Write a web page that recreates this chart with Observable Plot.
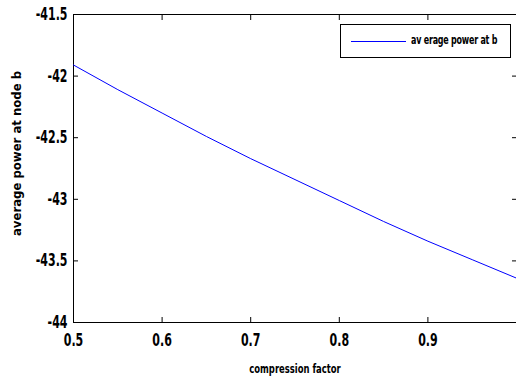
<!DOCTYPE html>
<html>
<head>
<meta charset="utf-8">
<script src="https://cdn.jsdelivr.net/npm/d3@7"></script>
<script src="https://cdn.jsdelivr.net/npm/@observablehq/plot@0.6"></script>
<style>
  html, body { margin: 0; padding: 0; background: #fff; }
  #wrap { position: relative; width: 516px; height: 380px; overflow: hidden; }
  #legend {
    position: absolute; left: 340px; top: 24px; width: 171px; height: 34px;
    box-sizing: border-box; border: 1px solid #000; background: #fff;
    font-family: "DejaVu Sans Condensed", "DejaVu Sans", sans-serif;
    font-weight: bold; font-size: 12px;
  }
  #legend .sw { position: absolute; left: 10px; top: 16px; width: 55px; height: 0; border-top: 1px solid #0000ff; }
  #legend .lb { position: absolute; left: 70px; top: 8px; white-space: pre; transform: scaleX(0.74); transform-origin: 0 50%; letter-spacing: -0.3px; }
</style>
</head>
<body>
<div id="wrap"></div>
<script>
const compression = [0.5, 0.55, 0.6, 0.65, 0.7, 0.75, 0.8, 0.85, 0.9, 0.95, 1.0];
const avgPower = [-41.91, -42.11, -42.30, -42.49, -42.67, -42.84, -43.01, -43.18, -43.34, -43.49, -43.64];
const xTicks = [0.5, 0.6, 0.7, 0.8, 0.9, 1.0];
const yTicks = [-44, -43.5, -43, -42.5, -42, -41.5];
const seriesName = "av erage power at b";
const xLabel = "compression factor";
const yLabel = "average power at node b";

const data = compression.map((c, i) => ({c, p: avgPower[i]}));
const font = '"DejaVu Sans Condensed", "DejaVu Sans", sans-serif';

const chart = Plot.plot({
  width: 516,
  height: 380,
  marginTop: 14,
  marginBottom: 58,
  marginLeft: 73,
  marginRight: 0,
  style: {fontFamily: font, fontWeight: "bold", fontSize: "17px", color: "#000", background: "#fff", overflow: "visible"},
  x: {domain: [0.5, 1], label: null},
  y: {domain: [-44, -41.5], label: null},
  marks: [
    Plot.frame({stroke: "#000", strokeWidth: 1}),
    Plot.axisX(xTicks.filter(d => d < 1), {anchor: "bottom", tickSize: 0, tickPadding: 11, tickFormat: d => String(d), fontSize: 17, className: "squeeze"}),
    Plot.axisX(xTicks, {anchor: "bottom", tickSize: -5, tickFormat: () => ""}),
    Plot.axisX(xTicks, {anchor: "top", tickSize: -5, tickFormat: () => ""}),
    Plot.axisY(yTicks, {anchor: "left", tickSize: 0, tickPadding: 6, tickFormat: d => String(d), fontSize: 17, className: "squeeze"}),
    Plot.axisY(yTicks, {anchor: "left", tickSize: -5, tickFormat: () => ""}),
    Plot.axisY(yTicks, {anchor: "right", tickSize: -5, tickFormat: () => ""}),
    Plot.line(data, {x: "c", y: "p", stroke: "#0000ff", strokeWidth: 1}),
    Plot.text([xLabel], {frameAnchor: "bottom", dy: 50, text: d => d, fontSize: 12, fontWeight: "bold", className: "squeeze-x"}),
    Plot.text([yLabel], {frameAnchor: "left", textAnchor: "middle", dx: -57, dy: -15, rotate: -90, text: d => d, fontSize: 13, fontWeight: "bold"})
  ]
});

const wrap = document.getElementById("wrap");
wrap.appendChild(chart);
const leg = document.createElement("div");
leg.id = "legend";
leg.innerHTML = '<div class="sw"></div><div class="lb"></div>';
leg.querySelector(".lb").textContent = seriesName;
wrap.appendChild(leg);

// condense glyphs to mimic the narrow font of the original
function squeeze(sel, factor) {
  chart.querySelectorAll(sel + " text").forEach(t => {
    if (!t.textContent) return;
    const w = t.getComputedTextLength();
    t.setAttribute("textLength", (w * factor).toFixed(1));
    t.setAttribute("lengthAdjust", "spacingAndGlyphs");
  });
}
squeeze("g.squeeze", 0.72);
squeeze("g.squeeze-x", 0.78);
</script>
</body>
</html>
